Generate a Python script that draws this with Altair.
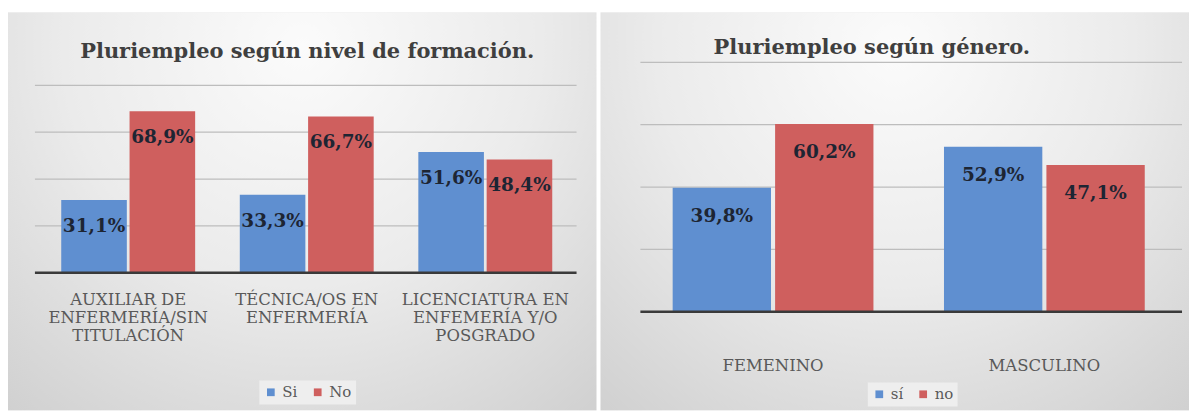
import altair as alt
import pandas as pd

# ---------------- data ----------------
niveles = ["AUXILIAR DE\nENFERMERÍA/SIN\nTITULACIÓN",
           "TÉCNICA/OS EN\nENFERMERÍA",
           "LICENCIATURA EN\nENFEMERÍA Y/O\nPOSGRADO"]
nivel_si = [31.1, 33.3, 51.6]
nivel_no = [68.9, 66.7, 48.4]
series_nivel = ["Si", "No"]

generos = ["FEMENINO", "MASCULINO"]
genero_si = [39.8, 52.9]
genero_no = [60.2, 47.1]
series_genero = ["sí", "no"]

grid_ticks = [20, 40, 60, 80]
title_left = "Pluriempleo según nivel de formación."
title_right = "Pluriempleo según género."

BLUE = "#5f8fd0"
RED = "#cf5f5e"
SERIF = "DejaVu Serif"


def fmt(v):
    return f"{v:.1f}".replace(".", ",") + "%"


def make_df(cats, si, no, names):
    rows = []
    for c, a, b in zip(cats, si, no):
        rows.append({"cat": c, "serie": names[0], "valor": a, "label": fmt(a)})
        rows.append({"cat": c, "serie": names[1], "valor": b, "label": fmt(b)})
    return pd.DataFrame(rows)


GRAD = {
    "gradient": "radial",
    "x1": 0.5, "y1": 0.22, "r1": 0,
    "x2": 0.5, "y2": 0.22, "r2": 0.9,
    "stops": [
        {"offset": 0, "color": "#fbfbfb"},
        {"offset": 0.45, "color": "#ebebeb"},
        {"offset": 1, "color": "#c9c9c9"},
    ],
}


def panel(cats, si, no, names, title, W, H, xrange, pin, pout, yrange,
          gx0, gx1, title_x, title_y, cat_y, legend_x, legend_y, label_dy):
    df = make_df(cats, si, no, names)
    xs = alt.Scale(domain=cats, range=xrange, paddingInner=pin, paddingOuter=pout)
    ys = alt.Scale(domain=[0, 80], range=yrange, nice=False, zero=True)
    os_ = alt.Scale(domain=names, paddingInner=0.04)

    bg = alt.Chart(alt.Data(values=[{"a": 1}])).mark_rect(fill=GRAD).encode(
        x=alt.value(0), x2=alt.value(W), y=alt.value(0), y2=alt.value(H)
    )
    grid = alt.Chart(pd.DataFrame({"v": grid_ticks})).mark_rule(
        color="#bdbdbd", strokeWidth=1.2
    ).encode(
        y=alt.Y("v:Q", scale=ys, axis=None), x=alt.value(gx0), x2=alt.value(gx1)
    )
    base = alt.Chart(df)
    bars = base.mark_bar().encode(
        x=alt.X("cat:N", scale=xs, axis=None, sort=cats),
        xOffset=alt.XOffset("serie:N", scale=os_, sort=names),
        y=alt.Y("valor:Q", scale=ys, axis=None),
        color=alt.Color(
            "serie:N",
            scale=alt.Scale(domain=names, range=[BLUE, RED]),
            sort=names,
            legend=alt.Legend(
                orient="none", legendX=legend_x, legendY=legend_y,
                direction="horizontal", title=None, symbolType="square",
                symbolSize=60, symbolStrokeWidth=0, labelFont=SERIF,
                labelFontSize=15, labelColor="#595959", labelOffset=4,
                columnPadding=12, padding=4, fillColor="#eeeeee",
            ),
        ),
    )
    zero = alt.Chart(pd.DataFrame({"v": [0]})).mark_rule(
        color="#3a3a3a", strokeWidth=2.5
    ).encode(
        y=alt.Y("v:Q", scale=ys, axis=None), x=alt.value(gx0), x2=alt.value(gx1)
    )
    vals = base.mark_text(
        font=SERIF, fontWeight="bold", fontSize=18.5, color="#1d2533",
        baseline="middle", dy=label_dy,
    ).encode(
        x=alt.X("cat:N", scale=xs, axis=None, sort=cats),
        xOffset=alt.XOffset("serie:N", scale=os_, sort=names),
        y=alt.Y("valor:Q", scale=ys, axis=None),
        text="label:N",
    )
    catlab = alt.Chart(pd.DataFrame({"cat": cats})).mark_text(
        font=SERIF, fontSize=16.5, color="#595959", lineBreak="\n",
        baseline="top", lineHeight=18,
    ).encode(
        x=alt.X("cat:N", scale=xs, axis=None, sort=cats),
        y=alt.value(cat_y),
        text="cat:N",
    )
    ttl = alt.Chart(alt.Data(values=[{"t": title}])).mark_text(
        font=SERIF, fontWeight="bold", fontSize=21, color="#3f3f3f",
        baseline="middle",
    ).encode(x=alt.value(title_x), y=alt.value(title_y), text="t:N")

    return alt.layer(bg, grid, bars, zero, vals, catlab, ttl).properties(
        width=W, height=H
    )


W, H = 590, 399
left = panel(niveles, nivel_si, nivel_no, series_nivel, title_left, W, H,
             [31, 568], 0.25, 0.125, [261, 73], 27, 570,
             300, 40, 280, 252, 369, 26)
right = panel(generos, genero_si, genero_no, series_genero, title_right, W, H,
              [37, 581], 0.26, 0.13, [300, 50], 40, 583,
              272, 36, 346, 268, 371, 28)

chart = alt.hconcat(left, right, spacing=4).resolve_scale(
    color="independent", x="independent", y="independent", xOffset="independent"
).properties(
    padding={"top": 4, "left": 0, "right": 0, "bottom": 0},
    background="white",
).configure_view(stroke=None)

chart.save("out.html", embed_options={"renderer": "svg", "actions": False})
